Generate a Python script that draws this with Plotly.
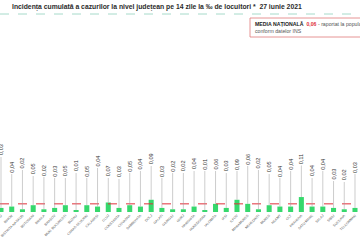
import plotly.graph_objects as go

counties = ["BACAU", "BIHOR", "BISTRITA-NASAUD", "BOTOSANI", "BRAILA", "BRASOV",
            "MUN. BUCURESTI", "BUZAU", "CARAS-SEVERIN", "CALARASI", "CLUJ", "CONSTANTA",
            "COVASNA", "DAMBOVITA", "DOLJ", "GALATI", "GIURGIU", "GORJ", "HARGHITA",
            "HUNEDOARA", "IALOMITA", "IASI", "ILFOV", "MARAMURES", "MEHEDINTI", "MURES",
            "NEAMT", "OLT", "PRAHOVA", "SATU MARE", "SALAJ", "SIBIU", "SUCEAVA", "TELEORMAN"]
incidence = [0.03, 0.04, 0.02, 0.05, 0.02, 0.03, 0.05, 0.01, 0.05, 0.04, 0.07, 0.03,
             0.05, 0.04, 0.09, 0.03, 0.02, 0.02, 0.04, 0.01, 0.06, 0.03, 0.09, 0.06,
             0.02, 0.05, 0.04, 0.04, 0.11, 0.04, 0.04, 0.03, 0.02, 0.03]
national_avg = 0.06

title_text = "Incidența cumulată a cazurilor la nivel județean pe 14 zile la ‰ de locuitori *  27 iunie 2021"

# style: vertical pixel position of each value label's centre
label_px = [150, 167, 163, 169, 170, 171, 171, 166, 171, 161, 171, 172, 166, 164, 159, 171,
            166, 166, 164, 164, 164, 166, 164, 159, 163, 167, 171, 164, 159, 171, 164, 174, 175, 167]

W, H = 360, 240
MB = 28
plot_h = H - MB
y_top = 1.56
xr = [-0.093, 33.467]


def px_to_y(py):
    return (plot_h - py) / plot_h * y_top


def px_to_paper(py):
    return 1 - py / plot_h


fig = go.Figure()
fig.add_trace(go.Bar(x=counties, y=incidence, marker=dict(color="#36d86c", line=dict(width=0)),
                     hoverinfo="skip"))

ann = []
for c, v, lp in zip(counties, incidence, label_px):
    ann.append(dict(x=c, y=v, xref="x", yref="y", text=f"{v:.2f}".replace(".", ","),
                    textangle=-90, showarrow=True, arrowhead=0, arrowwidth=0.5,
                    arrowcolor="#9a9a9a", standoff=0, ax=0, axref="pixel",
                    ay=px_to_y(lp), ayref="y",
                    font=dict(family="Liberation Sans", size=5.6, color="#333333")))

ann.append(dict(x=10 / W, y=px_to_paper(7), xref="paper", yref="paper", xanchor="left",
                yanchor="middle", showarrow=False, text="<b>" + title_text + "</b>",
                font=dict(family="Liberation Sans", size=6.8, color="#2b2b2b")))

ann.append(dict(x=253 / W, y=px_to_paper(27.5), xref="paper", yref="paper", xanchor="left",
                yanchor="middle", showarrow=False, align="left",
                text="<b>MEDIA NAȚIONALĂ</b>  <b><span style='color:#e0303a'>0,06</span></b>"
                     " <span style='color:#555'>- raportat la populația</span><br>"
                     "<span style='color:#555'>conform datelor INS</span>",
                font=dict(family="Liberation Sans", size=5.2, color="#222222")))

shapes = [
    dict(type="line", xref="paper", yref="paper", x0=0, x1=1,
         y0=px_to_paper(14), y1=px_to_paper(14),
         line=dict(color="#8fd0bd", width=0.8, dash="dash")),
    dict(type="rect", xref="paper", yref="paper", x0=250 / W, x1=1.1,
         y0=px_to_paper(37), y1=px_to_paper(18),
         line=dict(color="#e07a7a", width=0.8), fillcolor="white"),
    dict(type="line", xref="paper", yref="y", x0=0, x1=1, y0=national_avg, y1=national_avg,
         line=dict(color="#e0303a", width=1, dash="dash")),
]

fig.update_layout(
    width=W, height=H,
    margin=dict(l=0, r=0, t=0, b=MB),
    paper_bgcolor="white", plot_bgcolor="white",
    showlegend=False, bargap=0.53,
    xaxis=dict(range=xr, tickangle=-45, showgrid=False, zeroline=False, showline=False,
               automargin=False, ticks="",
               tickfont=dict(family="Liberation Sans", size=3.4, color="#555555")),
    yaxis=dict(range=[0, y_top], visible=False, fixedrange=True, automargin=False),
    annotations=ann, shapes=shapes,
)

fig.write_html("out.html")
